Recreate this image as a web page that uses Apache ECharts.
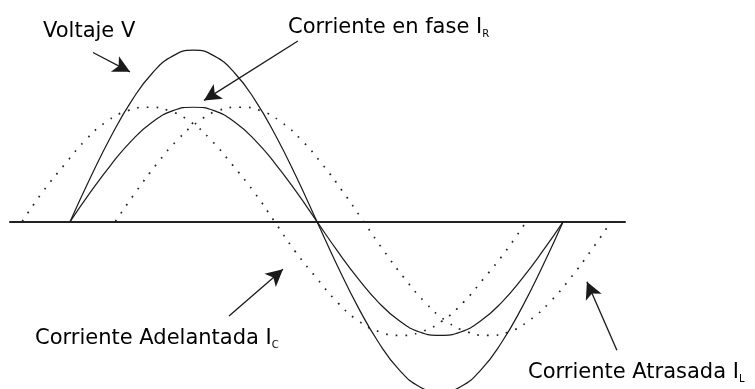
<!DOCTYPE html>
<html>
<head>
<meta charset="utf-8">
<script src="https://cdn.jsdelivr.net/npm/echarts@6/dist/echarts.min.js"></script>
<style>
  html, body { margin: 0; padding: 0; background: #ffffff; }
  #chart { width: 755px; height: 389px; }
</style>
</head>
<body>
<div id="chart"></div>
<script>
// Phase positions (degrees) of the sampled points
const phaseDeg = [0,15,30,45,60,75,90,105,120,135,150,165,180,195,210,225,240,255,270,285,300,315,330,345,360];
const leadDeg  = [-35,-20,-4,11,26,42,57,72,88,103,118,134,149,164,180,195,210,226,241,256,272,287,302,318,333];
const lagDeg   = [33,48,63,78,93,108,124,139,154,169,184,199,214,229,244,259,274,290,305,320,335,350,365,380,395];

// Values
const voltage        = [0,0.39,0.75,1.06,1.30,1.45,1.50,1.45,1.30,1.06,0.75,0.39,0,-0.39,-0.75,-1.06,-1.30,-1.45,-1.50,-1.45,-1.30,-1.06,-0.75,-0.39,0];
const currentInPhase = [0,0.26,0.50,0.71,0.87,0.97,1.00,0.97,0.87,0.71,0.50,0.26,0,-0.26,-0.50,-0.71,-0.87,-0.97,-1.00,-0.97,-0.87,-0.71,-0.50,-0.26,0];
const currentLead    = [0,0.26,0.50,0.71,0.87,0.97,1.00,0.97,0.87,0.71,0.50,0.26,0,-0.26,-0.50,-0.71,-0.87,-0.97,-1.00,-0.97,-0.87,-0.71,-0.50,-0.26,0];
const currentLag     = [0,0.26,0.50,0.71,0.87,0.97,1.00,0.97,0.87,0.71,0.50,0.26,0,-0.26,-0.50,-0.71,-0.87,-0.97,-1.00,-0.97,-0.87,-0.71,-0.50,-0.26,0];

// Annotation arrows: [fromDeg, fromValue, toDeg, toValue]
const arrowVoltage  = [16.6, 1.48, 43.6, 1.31];
const arrowInPhase  = [166.2, 1.58, 97.6, 1.06];
const arrowLead     = [115.9, -0.83, 155.3, -0.42];
const arrowLag      = [399.1, -1.13, 377.2, -0.53];

const labels = {
  voltage: 'Voltaje V',
  inPhase: 'Corriente en fase ',
  lead: 'Corriente Adelantada ',
  lag: 'Corriente Atrasada '
};

function pairs(xs, ys) { return xs.map((x, i) => [x, ys[i]]); }
function arrow(a) { return [{ coord: [a[0], a[1]] }, { coord: [a[2], a[3]] }]; }

const ink = '#1a1a1a';
const font = 'DejaVu Sans';
const rich = {
  m: { fontFamily: font, fontSize: 21, color: '#2a2a2a', lineHeight: 24 },
  s: { fontFamily: font, fontSize: 10, color: '#2a2a2a', lineHeight: 10, verticalAlign: 'bottom' }
};

const chart = echarts.init(document.getElementById('chart'), null, { renderer: 'canvas' });
chart.setOption({
  animation: false,
  backgroundColor: '#ffffff',
  grid: { left: 10, right: 130, top: 0, bottom: 0, containLabel: false },
  xAxis: {
    type: 'value', min: -44, max: 405,
    axisLine: { show: true, onZero: true, lineStyle: { color: '#222', width: 2 } },
    axisTick: { show: false }, axisLabel: { show: false }, splitLine: { show: false }
  },
  yAxis: {
    type: 'value', min: -1.47, max: 1.94,
    axisLine: { show: false }, axisTick: { show: false }, axisLabel: { show: false }, splitLine: { show: false }
  },
  series: [
    { type: 'line', data: pairs(phaseDeg, voltage), smooth: true, showSymbol: false, clip: true,
      lineStyle: { color: ink, width: 1.2 } },
    { type: 'line', data: pairs(phaseDeg, currentInPhase), smooth: true, showSymbol: false,
      lineStyle: { color: ink, width: 1.2 } },
    { type: 'line', data: pairs(leadDeg, currentLead), smooth: true, showSymbol: false,
      lineStyle: { color: '#222', width: 1.7, type: [1.7, 8], cap: 'butt' } },
    { type: 'line', data: pairs(lagDeg, currentLag), smooth: true, showSymbol: false,
      lineStyle: { color: '#222', width: 1.7, type: [1.7, 8], cap: 'butt' } },
    { type: 'line', data: [], silent: true,
      markLine: {
        silent: true, animation: false,
        symbol: ['none', 'arrow'], symbolSize: [13, 17],
        label: { show: false },
        lineStyle: { color: ink, width: 1.3, type: 'solid' },
        emphasis: { disabled: true },
        data: [arrow(arrowVoltage), arrow(arrowInPhase), arrow(arrowLead), arrow(arrowLag)]
      }
    }
  ],
  graphic: [
    { type: 'text', left: 43, top: 21, style: { text: '{m|' + labels.voltage + '}', rich: rich } },
    { type: 'text', left: 288, top: 17, style: { text: '{m|' + labels.inPhase + 'I}{s|R}', rich: rich } },
    { type: 'text', left: 35, top: 328, style: { text: '{m|' + labels.lead + 'I}{s|C}', rich: rich } },
    { type: 'text', left: 528, top: 362, style: { text: '{m|' + labels.lag + 'I}{s|L}', rich: rich } }
  ]
});
</script>
</body>
</html>
